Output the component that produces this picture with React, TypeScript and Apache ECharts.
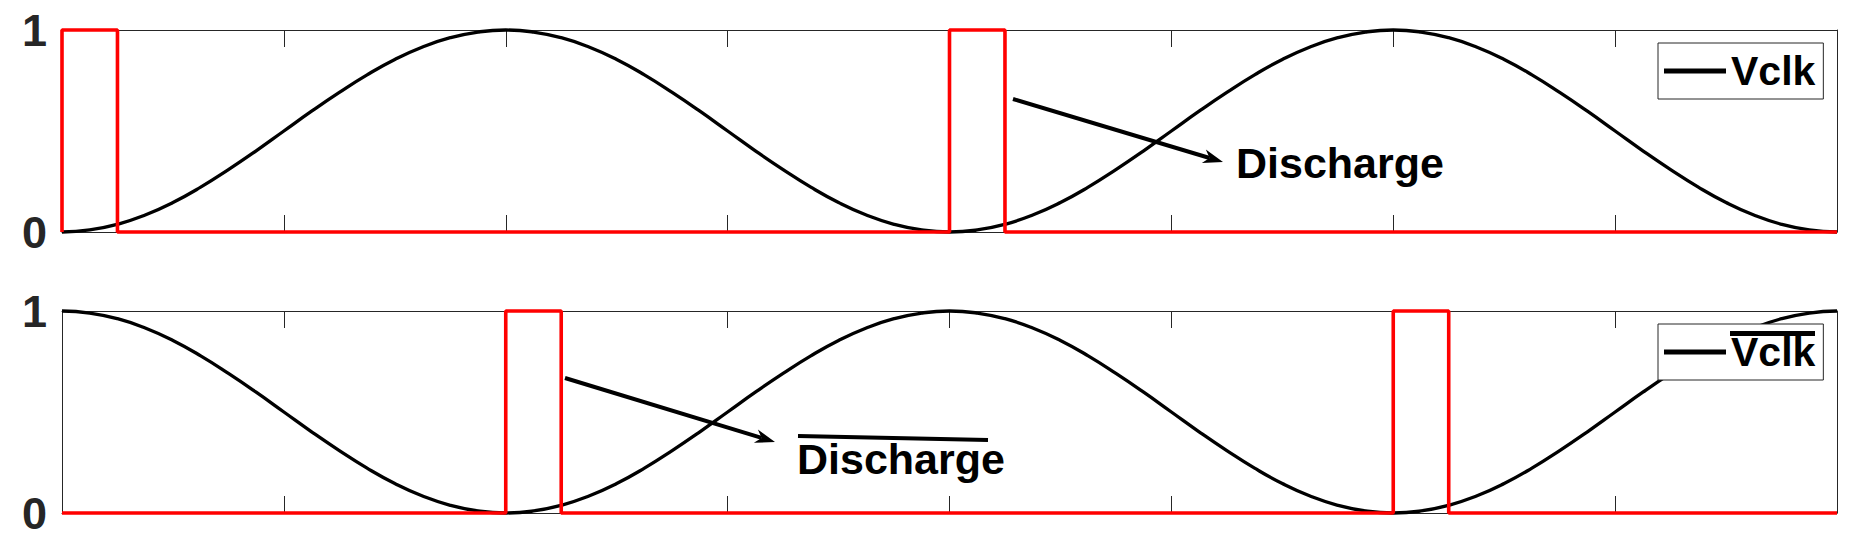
import React, { useEffect, useRef } from "react";
import * as echarts from "echarts";

// time axis (in clock quarter-periods)
const tValues = [
  0, 0.125, 0.25, 0.375, 0.5, 0.625, 0.75, 0.875, 1, 1.125, 1.25, 1.375, 1.5, 1.625, 1.75, 1.875,
  2, 2.125, 2.25, 2.375, 2.5, 2.625, 2.75, 2.875, 3, 3.125, 3.25, 3.375, 3.5, 3.625, 3.75, 3.875,
  4, 4.125, 4.25, 4.375, 4.5, 4.625, 4.75, 4.875, 5, 5.125, 5.25, 5.375, 5.5, 5.625, 5.75, 5.875,
  6, 6.125, 6.25, 6.375, 6.5, 6.625, 6.75, 6.875, 7, 7.125, 7.25, 7.375, 7.5, 7.625, 7.75, 7.875,
  8,
];
const vclk = [
  0, 0.01, 0.038, 0.084, 0.146, 0.222, 0.309, 0.402, 0.5, 0.598, 0.691, 0.778, 0.854, 0.916, 0.962, 0.99,
  1, 0.99, 0.962, 0.916, 0.854, 0.778, 0.691, 0.598, 0.5, 0.402, 0.309, 0.222, 0.146, 0.084, 0.038, 0.01,
  0, 0.01, 0.038, 0.084, 0.146, 0.222, 0.309, 0.402, 0.5, 0.598, 0.691, 0.778, 0.854, 0.916, 0.962, 0.99,
  1, 0.99, 0.962, 0.916, 0.854, 0.778, 0.691, 0.598, 0.5, 0.402, 0.309, 0.222, 0.146, 0.084, 0.038, 0.01,
  0,
];
const vclkBar = [
  1, 0.99, 0.962, 0.916, 0.854, 0.778, 0.691, 0.598, 0.5, 0.402, 0.309, 0.222, 0.146, 0.084, 0.038, 0.01,
  0, 0.01, 0.038, 0.084, 0.146, 0.222, 0.309, 0.402, 0.5, 0.598, 0.691, 0.778, 0.854, 0.916, 0.962, 0.99,
  1, 0.99, 0.962, 0.916, 0.854, 0.778, 0.691, 0.598, 0.5, 0.402, 0.309, 0.222, 0.146, 0.084, 0.038, 0.01,
  0, 0.01, 0.038, 0.084, 0.146, 0.222, 0.309, 0.402, 0.5, 0.598, 0.691, 0.778, 0.854, 0.916, 0.962, 0.99,
  1,
];
const dischargeX = [0, 0, 0.25, 0.25, 4, 4, 4.25, 4.25, 8];
const dischargeY = [0, 1, 1, 0, 0, 1, 1, 0, 0];
const dischargeBarX = [0, 2, 2, 2.25, 2.25, 6, 6, 6.25, 6.25, 8];
const dischargeBarY = [0, 0, 1, 1, 0, 0, 1, 1, 0, 0];
const yTicks = [0, 1];
const xMin = 0;
const xMax = 8;
const xInterval = 1;

const FONT = "'Liberation Sans', Arial, Helvetica, sans-serif";
const AXIS_COLOR = "#262626";

function zip(xs: number[], ys: number[]) {
  return xs.map((x, i) => [x, ys[i]]);
}

function arrow(x1: number, y1: number, x2: number, y2: number) {
  const dx = x2 - x1;
  const dy = y2 - y1;
  const len = Math.sqrt(dx * dx + dy * dy);
  const ux = dx / len;
  const uy = dy / len;
  const nx = -uy;
  const ny = ux;
  const headLen = 20;
  const halfW = 7;
  const notch = 14;
  const bx = x2 - headLen * ux;
  const by = y2 - headLen * uy;
  return [
    {
      type: "line",
      z: 50,
      shape: { x1, y1, x2: x2 - notch * ux, y2: y2 - notch * uy },
      style: { stroke: "#000", lineWidth: 4 },
    },
    {
      type: "polygon",
      z: 50,
      shape: {
        points: [
          [x2, y2],
          [bx + halfW * nx, by + halfW * ny],
          [x2 - notch * ux, y2 - notch * uy],
          [bx - halfW * nx, by - halfW * ny],
        ],
      },
      style: { fill: "#000" },
    },
  ];
}

export default function App() {
  const ref = useRef<HTMLDivElement>(null);

  useEffect(() => {
    if (!ref.current) return;
    const chart = echarts.init(ref.current, null, { renderer: "svg" });

    const grids = [
      { left: 62, right: 35, top: 30, height: 202 },
      { left: 62, right: 35, top: 311, height: 202 },
    ];

    const xAxes: any[] = [];
    const yAxes: any[] = [];
    grids.forEach((_, gi) => {
      ["bottom", "top"].forEach((pos) => {
        xAxes.push({
          type: "value",
          gridIndex: gi,
          position: pos,
          min: xMin,
          max: xMax,
          interval: xInterval,
          axisLine: { show: true, onZero: false, lineStyle: { color: AXIS_COLOR, width: 1 } },
          axisTick: { show: true, inside: true, length: 17, lineStyle: { color: AXIS_COLOR, width: 1 } },
          axisLabel: { show: false },
          splitLine: { show: false },
        });
      });
      ["left", "right"].forEach((pos) => {
        yAxes.push({
          type: "value",
          gridIndex: gi,
          position: pos,
          min: yTicks[0],
          max: yTicks[yTicks.length - 1],
          interval: 1,
          axisLine: { show: true, onZero: false, lineStyle: { color: AXIS_COLOR, width: 1 } },
          axisTick: { show: false },
          axisLabel: {
            show: pos === "left",
            fontSize: 45,
            fontWeight: "bold",
            fontFamily: FONT,
            color: AXIS_COLOR,
            margin: 15,
            padding: [6, 0, 0, 0],
          },
          splitLine: { show: false },
        });
      });
    });

    const legendCommon = {
      orient: "horizontal",
      icon: "rect",
      itemWidth: 62,
      itemHeight: 5,
      selectedMode: false,
      backgroundColor: "#fff",
      borderColor: AXIS_COLOR,
      borderWidth: 1,
      borderRadius: 0,
      padding: [7, 8, 7, 6],
      z: 20,
      textStyle: {
        fontSize: 41,
        fontWeight: "bold",
        fontFamily: FONT,
        color: "#000",
        lineHeight: 42,
      },
    };

    const curveStyle = { color: "#000", width: 3.3 };
    const pulseStyle = { color: "#ff0000", width: 3.6 };

    chart.setOption({
      animation: false,
      backgroundColor: "#fff",
      grid: grids,
      xAxis: xAxes,
      yAxis: yAxes,
      legend: [
        { ...legendCommon, left: 1658, top: 43, data: ["Vclk"] },
        {
          ...legendCommon,
          left: 1658,
          top: 324,
          data: ["VclkBar"],
          formatter: () => "Vclk",
        },
      ],
      series: [
        {
          name: "Vclk",
          type: "line",
          xAxisIndex: 0,
          yAxisIndex: 0,
          data: zip(tValues, vclk),
          smooth: true,
          symbol: "none",
          clip: false,
          color: "#000",
          lineStyle: curveStyle,
          z: 2,
        },
        {
          name: "Discharge",
          type: "line",
          xAxisIndex: 0,
          yAxisIndex: 0,
          data: zip(dischargeX, dischargeY),
          symbol: "none",
          clip: false,
          color: "#ff0000",
          lineStyle: pulseStyle,
          z: 3,
        },
        {
          name: "VclkBar",
          type: "line",
          xAxisIndex: 2,
          yAxisIndex: 2,
          data: zip(tValues, vclkBar),
          smooth: true,
          symbol: "none",
          clip: false,
          color: "#000",
          lineStyle: curveStyle,
          z: 2,
        },
        {
          name: "DischargeBar",
          type: "line",
          xAxisIndex: 2,
          yAxisIndex: 2,
          data: zip(dischargeBarX, dischargeBarY),
          symbol: "none",
          clip: false,
          color: "#ff0000",
          lineStyle: pulseStyle,
          z: 3,
        },
      ],
      graphic: [
        ...arrow(1013, 99, 1223, 162),
        {
          type: "text",
          z: 50,
          style: {
            text: "Discharge",
            x: 1236,
            y: 163,
            font: `bold 43px ${FONT}`,
            fill: "#000",
            textAlign: "left",
            textVerticalAlign: "middle",
          },
        },
        ...arrow(565, 378, 775, 442),
        {
          type: "text",
          z: 50,
          style: {
            text: "Discharge",
            x: 797,
            y: 459,
            font: `bold 43px ${FONT}`,
            fill: "#000",
            textAlign: "left",
            textVerticalAlign: "middle",
          },
        },
        {
          type: "line",
          z: 50,
          shape: { x1: 798, y1: 436, x2: 988, y2: 440 },
          style: { stroke: "#000", lineWidth: 4 },
        },
        {
          type: "rect",
          z: 100,
          shape: { x: 1730, y: 331, width: 85, height: 5 },
          style: { fill: "#000" },
        },
      ],
    });

    return () => chart.dispose();
  }, []);

  return (
    <div
      ref={ref}
      style={{ position: "absolute", left: 0, top: 0, width: 1872, height: 542 }}
    />
  );
}
